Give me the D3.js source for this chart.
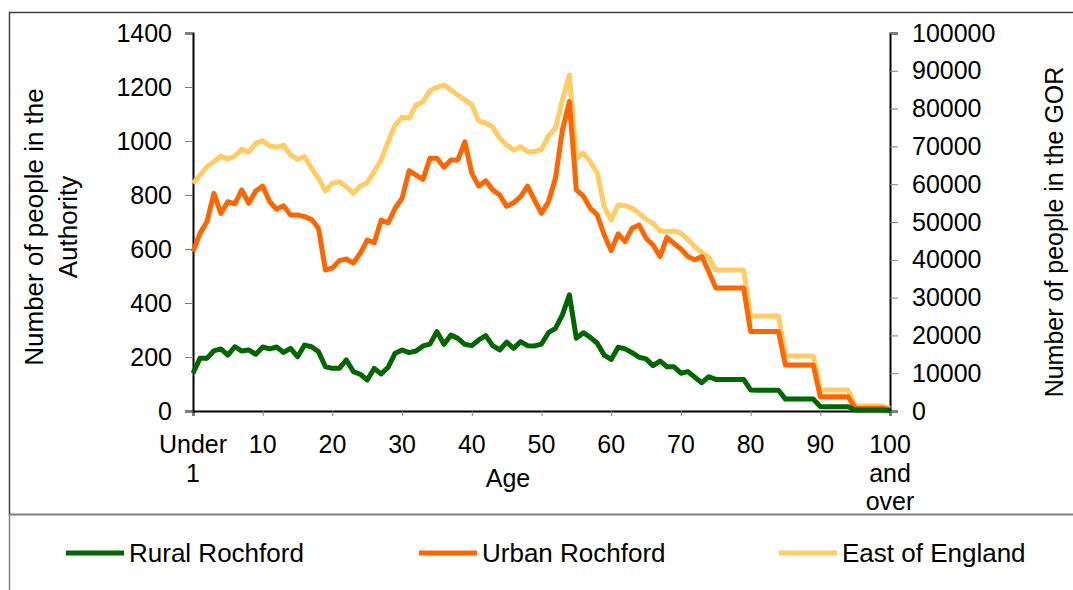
<!DOCTYPE html>
<html>
<head>
<meta charset="utf-8">
<script src="https://cdn.jsdelivr.net/npm/d3@7"></script>
<style>
  body { margin: 0; background: #fff; }
  text { font-family: Arial, "Liberation Sans", sans-serif; fill: #000; }
  .tick line { stroke: #808080; }
</style>
</head>
<body>
<div id="chart"></div>
<script>
// single years of age, 0 ("Under 1") to 100 ("100 and over")
var ages = d3.range(0, 101);

var rural = [140, 195, 195, 223, 230, 207, 238, 222, 226, 210,
  237, 230, 237, 217, 232, 201, 244, 238, 220, 164,
  158, 158, 189, 146, 136, 115, 158, 137, 162, 214,
  226, 216, 222, 241, 248, 294, 247, 281, 269, 247,
  242, 263, 279, 242, 226, 255, 232, 257, 242, 241,
  248, 290, 306, 356, 430, 269, 290, 273, 251, 207,
  191, 236, 230, 216, 199, 193, 168, 185, 164, 164,
  140, 146, 125, 105, 127, 117, 117, 117, 117, 117,
  78, 77, 77, 77, 77, 44, 44, 44, 44, 44,
  16, 16, 16, 16, 16, 4, 4, 4, 4, 4, 2];

var urban = [590, 658, 701, 806, 732, 775, 767, 819, 769, 815,
  833, 775, 747, 760, 726, 726, 720, 710, 677, 522,
  530, 557, 563, 548, 584, 633, 623, 707, 697, 751,
  788, 890, 874, 858, 936, 936, 903, 930, 930, 997,
  880, 833, 853, 819, 800, 758, 771, 794, 833, 781,
  732, 775, 862, 1041, 1146, 819, 796, 751, 726, 652,
  594, 656, 627, 677, 689, 640, 615, 572, 643, 621,
  600, 572, 560, 572, 516, 456, 456, 456, 456, 456,
  294, 294, 294, 294, 294, 170, 170, 170, 170, 170,
  53, 53, 53, 53, 53, 10, 10, 10, 10, 10, 5];

var eastEngland = [60240, 62400, 64600, 65950, 67460, 66580, 67460, 69230, 68520, 70820,
  71520, 70100, 69760, 70290, 67730, 66580, 67280, 64200, 61560, 58200,
  60240, 60660, 59340, 57590, 59520, 60400, 63310, 66400, 71240, 75660,
  77690, 77430, 80950, 81830, 84740, 85630, 86240, 84920, 83600, 82280,
  80950, 76720, 76110, 75220, 72140, 70370, 69050, 69930, 68600, 68600,
  69230, 72750, 74790, 82280, 88890, 66850, 68180, 65950, 62880, 54050,
  50530, 54500, 54320, 53620, 52300, 50710, 49660, 47700, 47440, 47620,
  47000, 45420, 43470, 41880, 40660, 37300, 37300, 37300, 37300, 37300,
  25130, 25130, 25130, 25130, 25130, 14550, 14550, 14550, 14550, 14550,
  5560, 5560, 5560, 5560, 5560, 1320, 1320, 1320, 1320, 1320, 700];

var xTicks = [0, 10, 20, 30, 40, 50, 60, 70, 80, 90, 100];
var xTickLabels = { 0: ["Under", "1"], 100: ["100", "and", "over"] };
var leftTicks = d3.range(0, 1401, 200);
var rightTicks = d3.range(0, 100001, 10000);
var seriesNames = ["Rural Rochford", "Urban Rochford", "East of England"];
var seriesColors = ["#006600", "#FF6600", "#FFCC66"];

var W = 1073, H = 590;
var plot = { left: 193, right: 890, top: 33, bottom: 411 };
var tickFont = 25, titleFont = 26;

var svg = d3.select("#chart").append("svg")
  .attr("width", W)
  .attr("height", H);

// chart frame + legend frame
svg.append("rect")
  .attr("x", 9.5).attr("y", 12.5)
  .attr("width", W).attr("height", 502)
  .attr("fill", "none").attr("stroke", "#404040").attr("stroke-width", 1.5);
svg.append("rect")
  .attr("x", 9.5).attr("y", 514.5)
  .attr("width", W).attr("height", 100)
  .attr("fill", "none").attr("stroke", "#808080").attr("stroke-width", 1.5);

var x = d3.scaleLinear().domain([0, 100]).range([plot.left, plot.right]);
var yLeft = d3.scaleLinear().domain([0, 1400]).range([plot.bottom, plot.top]);
var yRight = d3.scaleLinear().domain([0, 100000]).range([plot.bottom, plot.top]);

// axes
var xAxis = d3.axisBottom(x).tickValues(xTicks).tickSize(5).tickFormat("");
var gx = svg.append("g")
  .attr("transform", "translate(0," + plot.bottom + ")")
  .call(xAxis);
gx.select(".domain").attr("stroke", "#000").attr("stroke-width", 2);

// multi-line x labels
xTicks.forEach(function(t) {
  var lines = xTickLabels[t] || [String(t)];
  var txt = svg.append("text")
    .attr("x", x(t))
    .attr("y", 453)
    .attr("text-anchor", "middle")
    .style("font-size", tickFont + "px");
  lines.forEach(function(l, i) {
    txt.append("tspan").attr("x", x(t)).attr("dy", i === 0 ? 0 : 28.5).text(l);
  });
});

var gl = svg.append("g")
  .attr("transform", "translate(" + plot.left + ",0)")
  .call(d3.axisLeft(yLeft).tickValues(leftTicks).tickSize(8).tickPadding(13).tickFormat(d3.format("d")));
gl.select(".domain").attr("stroke", "#000").attr("stroke-width", 2);
gl.selectAll("text").style("font-size", tickFont + "px").attr("font-family", null);

var gr = svg.append("g")
  .attr("transform", "translate(" + plot.right + ",0)")
  .call(d3.axisRight(yRight).tickValues(rightTicks).tickSize(8).tickPadding(14).tickFormat(d3.format("d")));
gr.select(".domain").attr("stroke", "#000").attr("stroke-width", 2);
gr.selectAll("text").style("font-size", tickFont + "px").attr("font-family", null);

// lines
var lineLeft = d3.line().x(function(d, i) { return x(ages[i]); }).y(function(d) { return yLeft(d); });
var lineRight = d3.line().x(function(d, i) { return x(ages[i]); }).y(function(d) { return yRight(d); });

[[eastEngland, lineRight, 2], [urban, lineLeft, 1], [rural, lineLeft, 0]].forEach(function(s) {
  svg.append("path")
    .attr("d", s[1](s[0]))
    .attr("fill", "none")
    .attr("stroke", seriesColors[s[2]])
    .attr("stroke-width", 5)
    .attr("stroke-linejoin", "round");
});

// axis titles
svg.append("text")
  .attr("transform", "translate(43,227) rotate(-90)")
  .attr("text-anchor", "middle")
  .style("font-size", titleFont + "px")
  .text("Number of people in the");
svg.append("text")
  .attr("transform", "translate(77,227) rotate(-90)")
  .attr("text-anchor", "middle")
  .style("font-size", titleFont + "px")
  .text("Authority");
svg.append("text")
  .attr("transform", "translate(1063,232) rotate(-90)")
  .attr("text-anchor", "middle")
  .style("font-size", "25px")
  .text("Number of people in the GOR");
svg.append("text")
  .attr("x", 508).attr("y", 487)
  .attr("text-anchor", "middle")
  .style("font-size", tickFont + "px")
  .text("Age");

// legend
var legendX = [66, 419, 779];
seriesNames.forEach(function(name, i) {
  svg.append("line")
    .attr("x1", legendX[i]).attr("x2", legendX[i] + 58)
    .attr("y1", 553).attr("y2", 553)
    .attr("stroke", seriesColors[i]).attr("stroke-width", 5);
  svg.append("text")
    .attr("x", legendX[i] + 63).attr("y", 562)
    .style("font-size", titleFont + "px")
    .text(name);
});
</script>
</body>
</html>
